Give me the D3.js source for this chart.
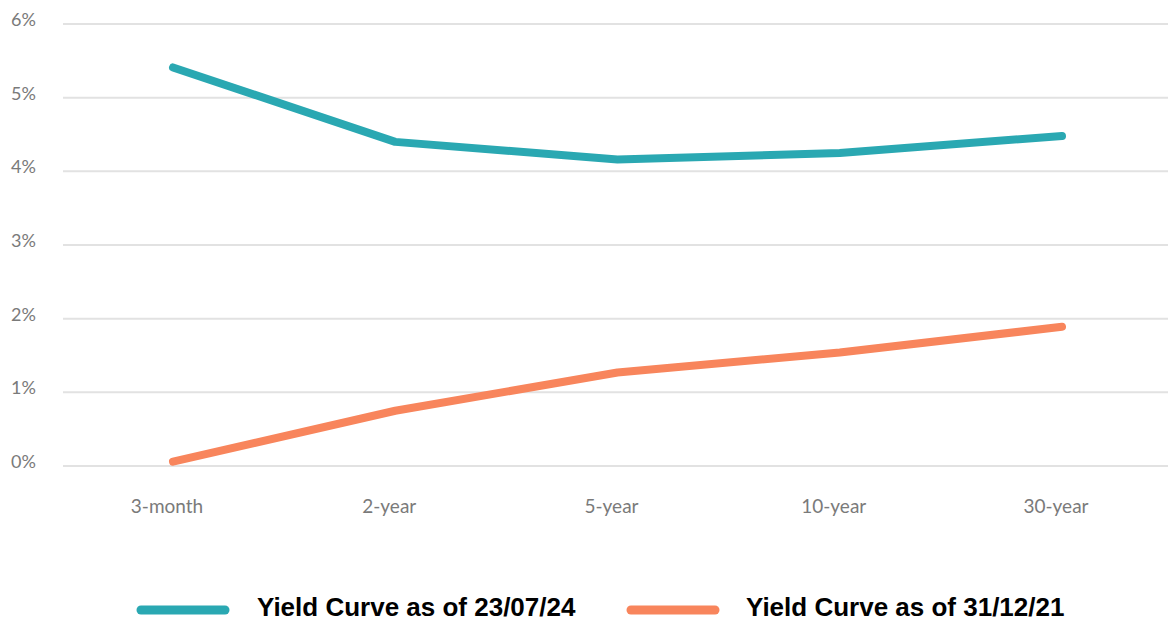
<!DOCTYPE html>
<html>
<head>
<meta charset="utf-8">
<script src="https://cdn.jsdelivr.net/npm/d3@7"></script>
<style>
  html, body { margin: 0; padding: 0; background: #fff; }
  svg { display: block; }
</style>
</head>
<body>
<script>
const categories = ["3-month", "2-year", "5-year", "10-year", "30-year"];
const yield2024 = [5.41, 4.40, 4.16, 4.25, 4.48];
const yield2021 = [0.06, 0.75, 1.27, 1.54, 1.89];
const yTicks = [0, 1, 2, 3, 4, 5, 6];
const seriesNames = ["Yield Curve as of 23/07/24", "Yield Curve as of 31/12/21"];
const seriesColors = ["#2aa8b2", "#f8855c"];

const W = 1168, H = 622;
const svg = d3.select("body").append("svg").attr("width", W).attr("height", H);

const x = d3.scalePoint().domain(categories).range([173, 1062]);
const y = d3.scaleLinear().domain([0, 6]).range([466, 24]);

// gridlines
svg.append("g").selectAll("line").data(yTicks).join("line")
  .attr("x1", 63).attr("x2", W)
  .attr("y1", d => y(d)).attr("y2", d => y(d))
  .attr("stroke", "#e2e2e2").attr("stroke-width", 2);

// y labels
svg.append("g").selectAll("text").data(yTicks).join("text")
  .attr("x", 11).attr("y", d => y(d) + 2)
  .attr("font-family", "Lato, 'Open Sans', sans-serif")
  .attr("font-size", 18).attr("fill", "#7a7a7a")
  .text(d => d + "%");

// x labels
svg.append("g").selectAll("text").data(categories).join("text")
  .attr("x", d => x(d) - 6).attr("y", 513)
  .attr("text-anchor", "middle")
  .attr("font-family", "Lato, 'Open Sans', sans-serif")
  .attr("font-size", 19).attr("fill", "#7a7a7a")
  .text(d => d);

const line = d3.line().x((d, i) => x(categories[i])).y(d => y(d));

[yield2024, yield2021].forEach((vals, k) => {
  svg.append("path").datum(vals)
    .attr("d", line)
    .attr("fill", "none")
    .attr("stroke", seriesColors[k])
    .attr("stroke-width", 8)
    .attr("stroke-linecap", "round")
    .attr("stroke-linejoin", "round");
});

// legend
const legendPos = [{sx: 141, tx: 257}, {sx: 631, tx: 746}];
seriesNames.forEach((name, k) => {
  const g = svg.append("g");
  g.append("line")
    .attr("x1", legendPos[k].sx).attr("x2", legendPos[k].sx + 84)
    .attr("y1", 610).attr("y2", 610)
    .attr("stroke", seriesColors[k]).attr("stroke-width", 9)
    .attr("stroke-linecap", "round");
  g.append("text")
    .attr("x", legendPos[k].tx).attr("y", 616)
    .attr("font-family", "'Liberation Sans', Arial, sans-serif")
    .attr("font-weight", "bold").attr("font-size", 26).attr("fill", "#000")
    .text(name);
});
</script>
</body>
</html>
